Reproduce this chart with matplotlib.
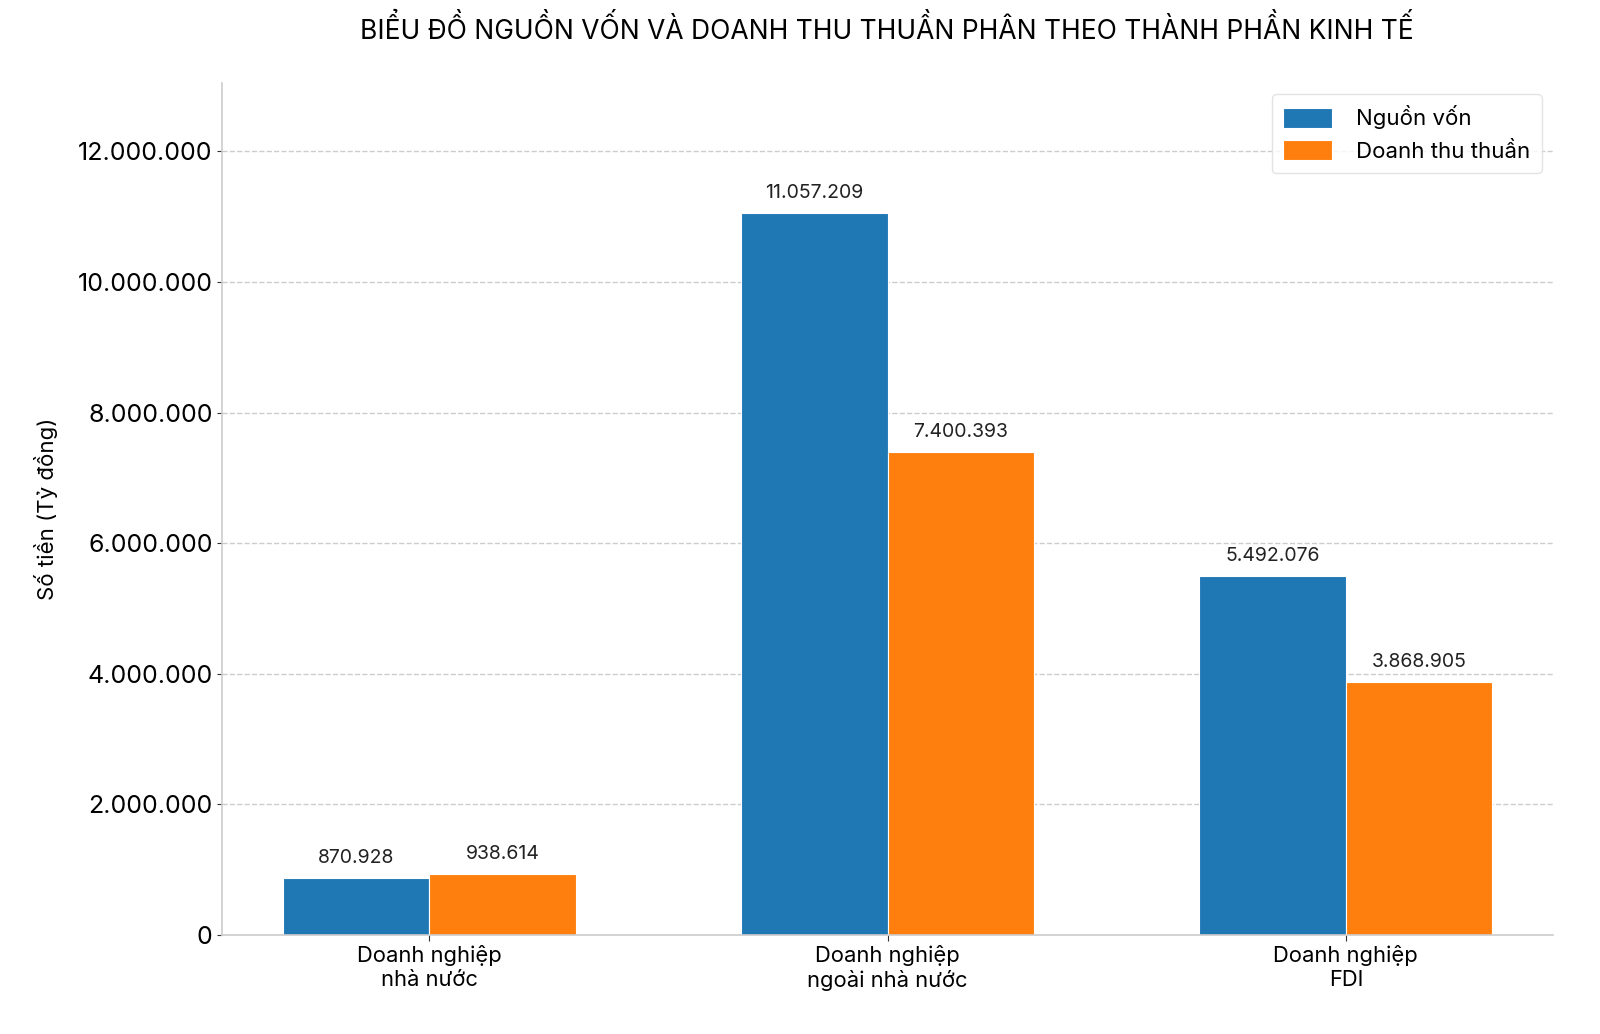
import matplotlib
matplotlib.use("Agg")
import matplotlib.pyplot as plt
import numpy as np
from matplotlib.ticker import FuncFormatter

plt.rcParams['font.family'] = ['Inter', 'DejaVu Sans']

# Data
categories = ["Doanh nghiệp\nnhà nước", "Doanh nghiệp\nngoài nhà nước", "Doanh nghiệp\nFDI"]
nguon_von = [870928, 11057209, 5492076]
doanh_thu = [938614, 7400393, 3868905]
series_names = ["Nguồn vốn", "Doanh thu thuần"]


def vn_fmt(v):
    return f"{int(round(v)):,}".replace(",", ".")


fig = plt.figure(figsize=(16, 10.34), dpi=100)
ax = fig.add_axes([0.139, 0.0957, 0.8316, 0.824])

x = np.arange(len(categories))
w = 0.32
b1 = ax.bar(x - w / 2, nguon_von, w, color='#1f77b4', edgecolor='white', linewidth=0.8, label=series_names[0])
b2 = ax.bar(x + w / 2, doanh_thu, w, color='#ff7f0e', edgecolor='white', linewidth=0.8, label=series_names[1])

for bars in (b1, b2):
    for r in bars:
        h = r.get_height()
        ax.annotate(vn_fmt(h), (r.get_x() + r.get_width() / 2, h),
                    xytext=(0, 8), textcoords='offset points',
                    ha='center', va='bottom', fontsize=14, color='#222222')

ax.set_ylim(0, max(nguon_von) * 1.18)
ax.yaxis.set_major_formatter(FuncFormatter(lambda v, p: vn_fmt(v)))
ax.set_xticks(x)
ax.set_xticklabels(categories, fontsize=15.8)
ax.tick_params(axis='y', labelsize=18, color='#333333')
ax.tick_params(axis='x', color='#333333', length=4)
ax.set_ylabel("Số tiền (Tỷ đồng)", fontsize=16, labelpad=14)

ax.grid(axis='y', linestyle='--', color='#cccccc', linewidth=1)
ax.set_axisbelow(True)
for s in ('top', 'right'):
    ax.spines[s].set_visible(False)
for s in ('left', 'bottom'):
    ax.spines[s].set_color('#cccccc')
    ax.spines[s].set_linewidth(1.2)

ax.legend(loc='upper right', fontsize=16, frameon=True, edgecolor='#dddddd',
          handlelength=2.2, handleheight=1, borderpad=0.5, handletextpad=1.1)

fig.text(0.554, 0.971, "BIỂU ĐỒ NGUỒN VỐN VÀ DOANH THU THUẦN PHÂN THEO THÀNH PHẦN KINH TẾ",
         ha='center', va='center', fontsize=19)

fig.savefig("out.png", dpi=100)
